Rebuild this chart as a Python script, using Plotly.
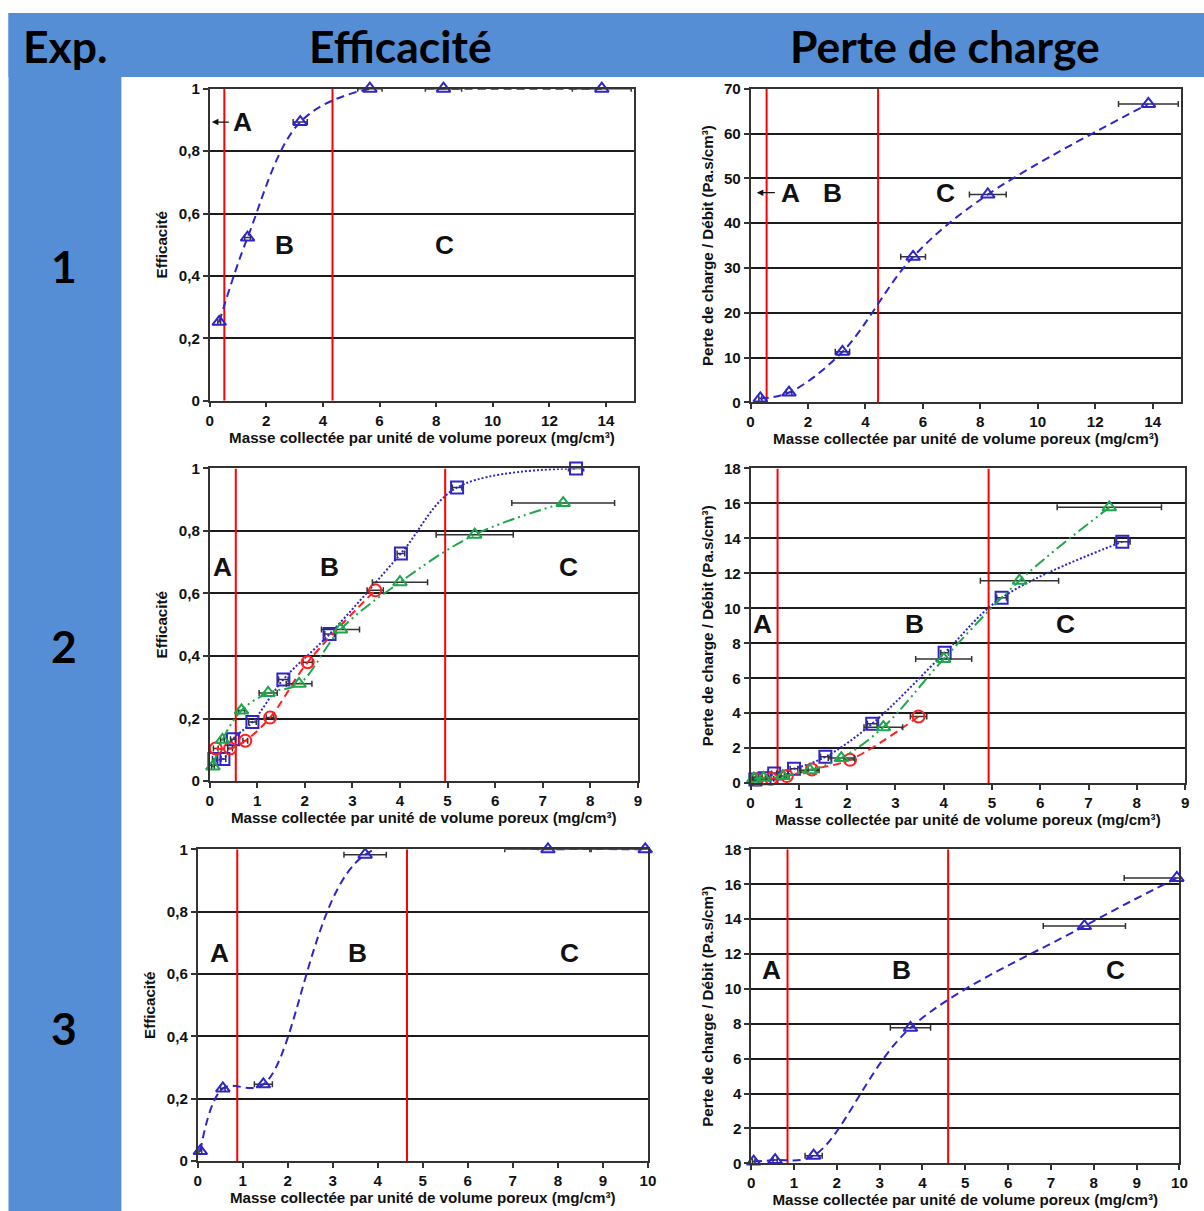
import plotly.graph_objects as go

# Target layout is given in window pixels (1204 x 1211); the page adds its own
# offset and scaling, so window positions are converted to figure pixels below.
AX, BX = 3.5, 0.991           # window_x = AX + BX * figure_x
BY = 1211 / 1227               # window_y = AY + BY * figure_y
AY = 8 * BY
W = 1212
H = 1219
FS = 1.011  # font scale

# ---------------- data ----------------
# Experiment 1 (triangles)
exp1_mass = [0.34, 1.34, 3.20, 5.66, 8.26, 13.85]
exp1_mass_err = [0.05, 0.10, 0.25, 0.43, 0.64, 1.04]
exp1_eff = [0.253, 0.523, 0.893, 1.0, 1.0, 1.0]
exp1_dp = [0.9, 2.2, 11.3, 32.5, 46.4, 66.6]

# Experiment 2 : three runs (squares, circles, triangles)
exp2a_mass = [0.10, 0.29, 0.49, 0.90, 1.55, 2.52, 4.02, 5.20, 7.70]
exp2a_err = [0.04, 0.05, 0.05, 0.08, 0.10, 0.10, 0.08, 0.10, 0.16]
exp2a_eff = [0.071, 0.071, 0.134, 0.189, 0.325, 0.470, 0.728, 0.939, 1.0]
exp2a_dp = [0.20, 0.28, 0.55, 0.82, 1.50, 3.40, 7.45, 10.60, 13.80]

exp2b_mass = [0.13, 0.43, 0.75, 1.27, 2.06, 3.48]
exp2b_err = [0.05, 0.05, 0.05, 0.08, 0.10, 0.17]
exp2b_eff = [0.104, 0.104, 0.129, 0.203, 0.380, 0.610]
exp2b_dp = [0.20, 0.25, 0.40, 0.78, 1.33, 3.81]

exp2c_mass = [0.07, 0.27, 0.67, 1.23, 1.88, 2.75, 4.00, 5.57, 7.43]
exp2c_err = [0.03, 0.04, 0.07, 0.19, 0.27, 0.40, 0.58, 0.81, 1.08]
exp2c_eff = [0.047, 0.132, 0.226, 0.282, 0.311, 0.485, 0.636, 0.788, 0.889]
exp2c_dp = [0.25, 0.30, 0.40, 0.73, 1.43, 3.20, 7.10, 11.58, 15.77]

# Experiment 3 (triangles)
exp3_mass = [0.06, 0.56, 1.46, 3.72, 7.78, 9.94]
exp3_mass_err = [0.03, 0.05, 0.20, 0.47, 0.96, 1.23]
exp3_eff = [0.032, 0.233, 0.246, 0.983, 1.0, 1.0]
exp3_dp = [0.10, 0.19, 0.44, 7.77, 13.60, 16.36]

# Zone limits A|B and B|C for each panel
zones_exp1_eff = [0.52, 4.34]
zones_exp1_dp = [0.56, 4.44]
zones_exp2_eff = [0.55, 4.95]
zones_exp2_dp = [0.56, 4.93]
zones_exp3_eff = [0.88, 4.65]
zones_exp3_dp = [0.85, 4.60]

eff_ticks = [0, 0.2, 0.4, 0.6, 0.8, 1]
eff_ticktext = ["0", "0,2", "0,4", "0,6", "0,8", "1"]

X_TITLE = "Masse collectée par unité de volume poreux (mg/cm³)"
Y_EFF = "Efficacité"
Y_DP = "Perte de charge / Débit (Pa.s/cm³)"

BLUE = "#2f25c8"
RED = "#ff1f1f"
GREEN = "#1ea64c"
HEADER_BG = "#558ed5"
FONT = "Liberation Sans"

# ---------------- helpers (window pixels -> paper fractions) ----------------
def fx(p):
    return min(1.0, max(0.0, (p - AX) / BX / W))

def fy(p):
    return min(1.0, max(0.0, 1 - (p - AY) / BY / H))

def dom_x(a, b):
    return [fx(a), fx(b)]

def dom_y(top, bottom):
    return [fy(bottom), fy(top)]

fig = go.Figure()

def series(k, x, y, err, color, symbol, dash, size=12, width=2):
    fig.add_trace(go.Scatter(
        x=x, y=y, mode="lines+markers",
        xaxis=f"x{k}" if k > 1 else "x", yaxis=f"y{k}" if k > 1 else "y",
        line=dict(color=color, width=width, dash=dash, shape="spline", smoothing=1.0),
        marker=dict(symbol=symbol, size=size, color=color, line=dict(color=color, width=2)),
        error_x=dict(type="data", array=err, color="#333333", thickness=1.5, width=3),
        cliponaxis=False, showlegend=False, hoverinfo="x+y",
    ))

DASH = "8px,5px"
DOT = "2px,2px"
DASHDOTDOT = "12px,4px,2px,4px,2px,4px"

# exp 1: efficiency and pressure drop
series(1, exp1_mass, exp1_eff, exp1_mass_err, BLUE, "triangle-up-open", DASH)
series(2, exp1_mass, exp1_dp, exp1_mass_err, BLUE, "triangle-up-open", DASH)
# exp 2
series(3, exp2a_mass, exp2a_eff, exp2a_err, BLUE, "square-open", DOT)
series(3, exp2b_mass, exp2b_eff, exp2b_err, RED, "circle-open", DASH)
series(3, exp2c_mass, exp2c_eff, exp2c_err, GREEN, "triangle-up-open", DASHDOTDOT)
series(4, exp2a_mass, exp2a_dp, exp2a_err, BLUE, "square-open", DOT)
series(4, exp2b_mass, exp2b_dp, exp2b_err, RED, "circle-open", DASH)
series(4, exp2c_mass, exp2c_dp, exp2c_err, GREEN, "triangle-up-open", DASHDOTDOT)
# exp 3
series(5, exp3_mass, exp3_eff, exp3_mass_err, BLUE, "triangle-up-open", DASH)
series(6, exp3_mass, exp3_dp, exp3_mass_err, BLUE, "triangle-up-open", DASH)

# ---------------- axes ----------------
tickfont = dict(family=FONT, size=15 * FS, color="#111111", weight="bold")
titlefont = dict(family=FONT, size=15 * FS, color="#111111", weight="bold")

def xaxis(dom, rng, dtick, anchor):
    return dict(domain=dom, range=rng, dtick=dtick, tick0=0, anchor=anchor,
                showline=True, linecolor="#333333", linewidth=1.5, mirror=True,
                ticks="outside", ticklen=5, tickwidth=1.5, tickcolor="#333333",
                showgrid=False, zeroline=False, tickfont=tickfont,
                title=dict(text=X_TITLE, font=titlefont, standoff=3))

def yaxis(dom, rng, anchor, title, tickvals=None, ticktext=None, dtick=None):
    d = dict(domain=dom, range=rng, anchor=anchor,
             showline=True, linecolor="#333333", linewidth=1.5, mirror=True,
             ticks="outside", ticklen=5, tickwidth=1.5, tickcolor="#333333",
             showgrid=True, gridcolor="#1c1c1c", gridwidth=1.6, zeroline=False,
             tickfont=tickfont, title=dict(text=title, font=titlefont, standoff=7))
    if tickvals is not None:
        d.update(tickmode="array", tickvals=tickvals, ticktext=ticktext)
    else:
        d.update(dtick=dtick, tick0=0)
    return d

layout = dict(
    width=W, height=H, margin=dict(l=0, r=0, t=0, b=0),
    paper_bgcolor="white", plot_bgcolor="white", showlegend=False,
    xaxis=xaxis(dom_x(209.3, 634.4), [0, 15], 2, "y"),
    yaxis=yaxis(dom_y(87.7, 400.0), [0, 1], "x", Y_EFF, eff_ticks, eff_ticktext),
    xaxis2=xaxis(dom_x(750.7, 1182.0), [0, 15], 2, "y2"),
    yaxis2=yaxis(dom_y(87.7, 401.7), [0, 70], "x2", Y_DP, dtick=10),
    xaxis3=xaxis(dom_x(209.3, 638.0), [0, 9], 1, "y3"),
    yaxis3=yaxis(dom_y(467.7, 780.7), [0, 1], "x3", Y_EFF, eff_ticks, eff_ticktext),
    xaxis4=xaxis(dom_x(750.7, 1185.7), [0, 9], 1, "y4"),
    yaxis4=yaxis(dom_y(467.7, 782.7), [0, 18], "x4", Y_DP, dtick=2),
    xaxis5=xaxis(dom_x(197.3, 648.0), [0, 10], 1, "y5"),
    yaxis5=yaxis(dom_y(849.0, 1161.0), [0, 1], "x5", Y_EFF, eff_ticks, eff_ticktext),
    xaxis6=xaxis(dom_x(751.3, 1180.0), [0, 10], 1, "y6"),
    yaxis6=yaxis(dom_y(849.0, 1163.3), [0, 18], "x6", Y_DP, dtick=2),
)
fig.update_layout(**layout)

# ---------------- shapes ----------------
shapes = [
    # blue header band and left column
    dict(type="rect", xref="paper", yref="paper", x0=fx(8), x1=1, y0=fy(76), y1=fy(12),
         fillcolor=HEADER_BG, line=dict(width=0), layer="below"),
    dict(type="rect", xref="paper", yref="paper", x0=fx(8), x1=fx(121), y0=0, y1=fy(12),
         fillcolor=HEADER_BG, line=dict(width=0), layer="below"),
]

panel_zones = [(1, zones_exp1_eff, 1), (2, zones_exp1_dp, 70), (3, zones_exp2_eff, 1),
               (4, zones_exp2_dp, 18), (5, zones_exp3_eff, 1), (6, zones_exp3_dp, 18)]
for k, zs, ymax in panel_zones:
    xr = "x" if k == 1 else f"x{k}"
    yr = "y" if k == 1 else f"y{k}"
    for z in zs:
        shapes.append(dict(type="line", xref=xr, yref=yr, x0=z, x1=z, y0=0, y1=ymax,
                           line=dict(color="#ff0000", width=2), layer="between"))
fig.update_layout(shapes=shapes)

# ---------------- annotations ----------------
ann = []
letter_font = dict(family=FONT, size=26 * FS, color="#111111", weight="bold")

def letter(k, x, y, t):
    ann.append(dict(xref="x" if k == 1 else f"x{k}", yref="y" if k == 1 else f"y{k}",
                    x=x, y=y, text=t, showarrow=False, font=letter_font))

def left_arrow(k, x_tail, x_tip, y):
    xr = "x" if k == 1 else f"x{k}"
    yr = "y" if k == 1 else f"y{k}"
    ann.append(dict(xref=xr, yref=yr, axref=xr, ayref=yr, x=x_tip, y=y, ax=x_tail, ay=y,
                    text="", showarrow=True, arrowhead=2, arrowsize=1, arrowwidth=1.3,
                    arrowcolor="#111111"))

# exp 1
left_arrow(1, 0.73, 0.08, 0.893)
letter(1, 1.15, 0.893, "A")
letter(1, 2.65, 0.50, "B")
letter(1, 8.30, 0.50, "C")
left_arrow(2, 0.90, 0.22, 46.8)
letter(2, 1.40, 46.8, "A")
letter(2, 2.85, 46.8, "B")
letter(2, 6.80, 46.8, "C")
# exp 2
letter(3, 0.27, 0.686, "A")
letter(3, 2.52, 0.686, "B")
letter(3, 7.54, 0.686, "C")
letter(4, 0.25, 9.1, "A")
letter(4, 3.40, 9.1, "B")
letter(4, 6.52, 9.1, "C")
# exp 3
letter(5, 0.48, 0.669, "A")
letter(5, 3.56, 0.669, "B")
letter(5, 8.26, 0.669, "C")
letter(6, 0.48, 11.1, "A")
letter(6, 3.52, 11.1, "B")
letter(6, 8.50, 11.1, "C")

# header and row labels
head_font = dict(family="Lato", size=44 * FS, color="#000000", weight="bold")

def paper_text(xp, yp, t):
    ann.append(dict(xref="paper", yref="paper", x=fx(xp), y=fy(yp), text=t,
                    showarrow=False, font=head_font, xanchor="center", yanchor="middle"))

paper_text(65, 44, "Exp.")
paper_text(400, 44, "Efficacité")
paper_text(945, 44, "Perte de charge")
paper_text(64, 265, "1")
paper_text(64, 645, "2")
paper_text(64, 1027, "3")

fig.update_layout(annotations=ann)

fig.write_html("out.html")
